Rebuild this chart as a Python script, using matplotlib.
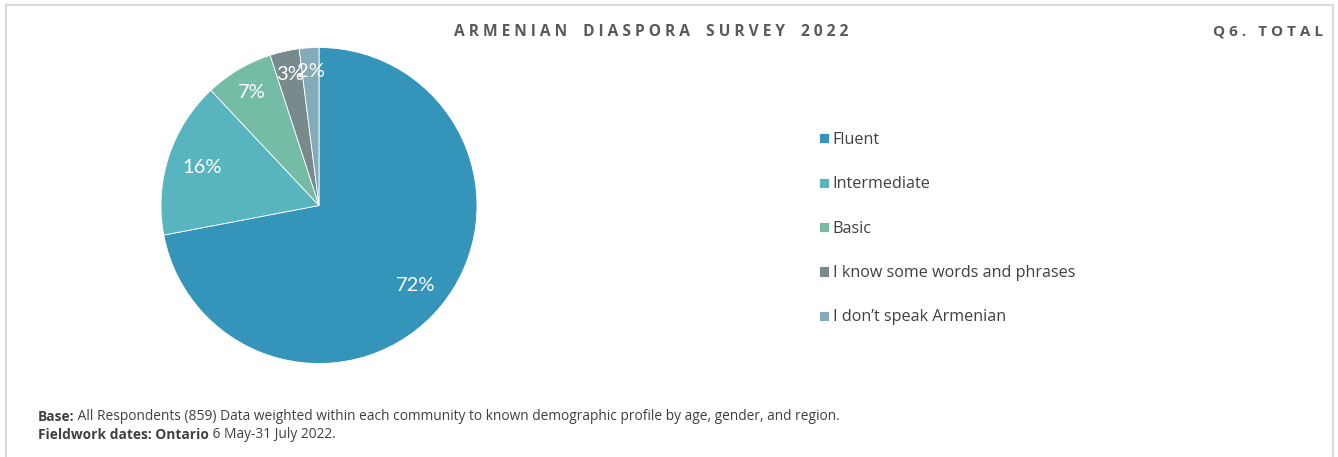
import matplotlib.pyplot as plt
from matplotlib.patches import Rectangle

# Data
categories = ['Fluent', 'Intermediate', 'Basic', 'I know some words and phrases', 'I don\u2019t speak Armenian']
shares = [72, 16, 7, 3, 2]
colors = ['#3594BA', '#58B4BE', '#74BCA6', '#798A8C', '#83ABB8']
title = 'ARMENIAN DIASPORA SURVEY 2022'
subtitle = 'Q6. TOTAL'

W, H = 1338, 457
fig = plt.figure(figsize=(W / 100, H / 100), dpi=100)

def spaced(s, gap='    '):
    # crude letter spacing: space between letters, wider gap between words
    return gap.join(' '.join(w) for w in s.split(' '))

# Frame around the panel
fig.patches.append(Rectangle((6 / W, -0.1), (1333 - 6) / W, 1.1 - 4.5 / H,
                             transform=fig.transFigure, fill=False,
                             edgecolor='#D9D9D9', linewidth=1.5))

# Pie
cx, cy, r = 319, 457 - 205.5, 158
ax = fig.add_axes([(cx - r) / W, (cy - r) / H, 2 * r / W, 2 * r / H])
wedges, texts, autotexts = ax.pie(
    shares, colors=colors, startangle=90, counterclock=False,
    autopct='%1.0f%%', pctdistance=0.8, radius=1,
    wedgeprops=dict(edgecolor='white', linewidth=0.6),
    textprops=dict(color='white', fontsize=14.5, family='Lato'))
# small slices sit a bit further out
for t, d in zip(autotexts, [0.79, 0.78, 0.83, 0.85, 0.85]):
    x, y = t.get_position()
    t.set_position((x * d / 0.8, y * d / 0.8))
ax.set_xlim(-1, 1)
ax.set_ylim(-1, 1)
ax.set_aspect('equal')

# Legend
fig.legend(wedges, categories, loc='upper left',
           bbox_to_anchor=(819 / W, 1 - 132 / H), frameon=False,
           prop=dict(family='Open Sans', size=11.6), labelcolor='#404040',
           handlelength=0.6, handleheight=0.6, handletextpad=0.25,
           labelspacing=1.76, borderpad=0, borderaxespad=0)

# Titles
fig.text(651 / W, 1 - 32 / H, spaced(title), ha='center', va='center',
         fontsize=11.2, fontweight='bold', color='#595959', family='Open Sans')
fig.text(1323 / W, 1 - 32 / H, spaced(subtitle, '   '), ha='right', va='center',
         fontsize=11, fontweight='bold', color='#595959', family='Open Sans')

# Footnotes with bold lead-ins
fig.canvas.draw()
rend = fig.canvas.get_renderer()
foot = [('Base:', ' All Respondents (859) Data weighted within each community to known demographic profile by age, gender, and region.', 417),
        ('Fieldwork dates: Ontario', ' 6 May-31 July 2022.', 435)]
for bold, rest, y in foot:
    t = fig.text(38 / W, 1 - y / H, bold, fontsize=9.9, fontweight='bold',
                 color='#404040', va='center', family='Open Sans')
    bb = t.get_window_extent(rend)
    fig.text(bb.x1 / W, 1 - y / H, rest, fontsize=9.9, color='#404040',
             va='center', family='Open Sans')

plt.savefig('out.png', dpi=100)
plt.close()
